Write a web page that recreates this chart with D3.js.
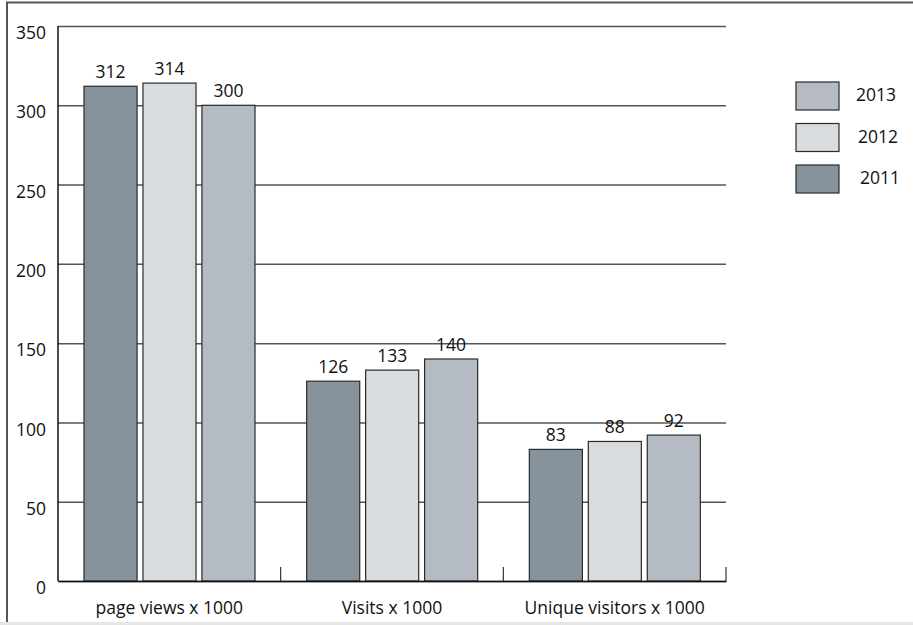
<!DOCTYPE html>
<html>
<head>
<meta charset="utf-8">
<script src="https://cdn.jsdelivr.net/npm/d3@7"></script>
<style>
  body { margin: 0; background: #fff; }
  text { font-family: "Open Sans", "Noto Sans", sans-serif; fill: #111; }
</style>
</head>
<body>
<script>
var categories = ["page views x 1000", "Visits x 1000", "Unique visitors x 1000"];
var years = ["2011", "2012", "2013"];
var values2011 = [312, 126, 83];
var values2012 = [314, 133, 88];
var values2013 = [300, 140, 92];
var yTicks = [0, 50, 100, 150, 200, 250, 300, 350];
var colors = {"2011": "#87939c", "2012": "#d8dcdf", "2013": "#b5bbc2"};

var series = {"2011": values2011, "2012": values2012, "2013": values2013};

var svg = d3.select("body")
   .append("svg")
   .attr("width", 913)
   .attr("height", 625);

// outer frame
svg.append("path")
   .attr("d", "M7,622V2.5H913")
   .attr("fill", "none")
   .attr("stroke", "#555")
   .attr("stroke-width", 2);
svg.append("rect")
   .attr("x", 0).attr("y", 622)
   .attr("width", 913).attr("height", 3)
   .attr("fill", "#e6e6e6");

var xScale = d3.scaleBand()
   .domain(categories)
   .range([58, 726]);

var x1 = d3.scaleBand()
   .domain(years)
   .range([26, 197])
   .paddingInner(0.1);

var yScale = d3.scaleLinear()
   .domain([0, 350])
   .range([581, 26]);

// gridlines + y labels
var yAxis = d3.axisLeft(yScale)
   .tickValues(yTicks)
   .tickSize(-(726 - 58))
   .tickPadding(12);

var gy = svg.append("g")
   .attr("transform", "translate(58,0)")
   .call(yAxis);
gy.select(".domain").remove();
gy.selectAll(".tick line")
   .attr("stroke", "#555")
   .attr("stroke-width", 1.5);
gy.selectAll(".tick text")
   .attr("font-size", 17.5)
   .attr("dy", "0.72em")
   .attr("fill", "#111");

// bars
var groups = svg.selectAll("g.cat")
   .data(categories)
   .enter()
   .append("g")
   .attr("class", "cat")
   .attr("transform", function(d){ return "translate(" + xScale(d) + ",0)"; });

groups.selectAll("rect")
   .data(function(d, i){
       return years.map(function(y){ return {year: y, value: series[y][i]}; });
   })
   .enter()
   .append("rect")
   .attr("x", function(d){ return x1(d.year); })
   .attr("y", function(d){ return yScale(d.value); })
   .attr("width", x1.bandwidth())
   .attr("height", function(d){ return yScale(0) - yScale(d.value); })
   .attr("fill", function(d){ return colors[d.year]; })
   .attr("stroke", "#2a2a2a")
   .attr("stroke-width", 1.2);

groups.selectAll("text.val")
   .data(function(d, i){
       return years.map(function(y){ return {year: y, value: series[y][i]}; });
   })
   .enter()
   .append("text")
   .attr("class", "val")
   .attr("x", function(d){ return x1(d.year) + x1.bandwidth() / 2; })
   .attr("y", function(d){ return yScale(d.value) - 8; })
   .attr("text-anchor", "middle")
   .attr("font-size", 17.5)
   .text(function(d){ return d.value; });

// axes lines
svg.append("line")
   .attr("x1", 58).attr("x2", 58)
   .attr("y1", yScale(350)).attr("y2", yScale(0))
   .attr("stroke", "#111").attr("stroke-width", 1.5);

var xAxis = d3.axisBottom(xScale).tickSize(0).tickPadding(21);
var gx = svg.append("g")
   .attr("transform", "translate(0," + yScale(0) + ")")
   .call(xAxis);
gx.select(".domain")
   .attr("stroke", "#111")
   .attr("stroke-width", 1.5);
gx.selectAll(".tick text")
   .attr("font-size", 17.5)
   .attr("fill", "#111");

// separator ticks at band ends
svg.selectAll("line.sep")
   .data(categories)
   .enter()
   .append("line")
   .attr("class", "sep")
   .attr("x1", function(d){ return xScale(d) + xScale.bandwidth(); })
   .attr("x2", function(d){ return xScale(d) + xScale.bandwidth(); })
   .attr("y1", yScale(0))
   .attr("y2", yScale(0) - 14)
   .attr("stroke", "#333")
   .attr("stroke-width", 1.2);

// legend
var legendYears = ["2013", "2012", "2011"];
var legend = svg.selectAll("g.legend")
   .data(legendYears)
   .enter()
   .append("g")
   .attr("class", "legend")
   .attr("transform", function(d, i){ return "translate(796," + (82 + i * 41.5) + ")"; });

legend.append("rect")
   .attr("width", 43)
   .attr("height", 28)
   .attr("fill", function(d){ return colors[d]; })
   .attr("stroke", "#2a2a2a")
   .attr("stroke-width", 1.2);

legend.append("text")
   .attr("x", function(d, i){ return 60 + i * 2; })
   .attr("y", 19)
   .attr("font-size", 17.5)
   .text(function(d){ return d; });
</script>
</body>
</html>
